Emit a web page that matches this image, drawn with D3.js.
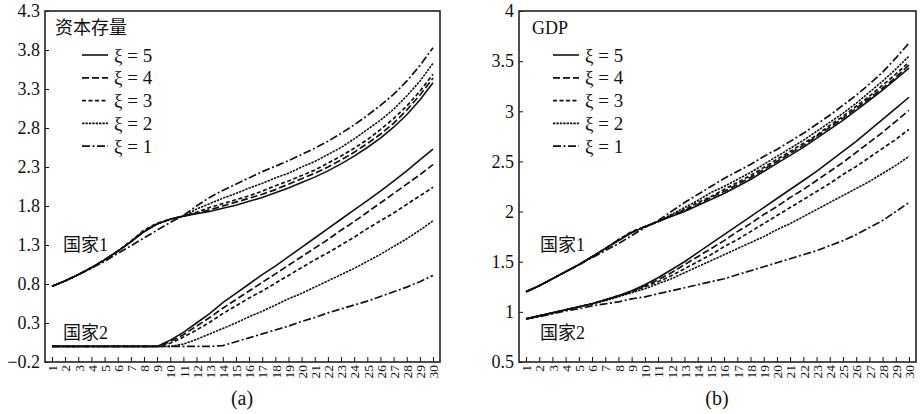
<!DOCTYPE html>
<html>
<head>
<meta charset="utf-8">
<script src="https://cdn.jsdelivr.net/npm/d3@7"></script>
<style>
  body { margin: 0; background: #fff; }
  svg { display: block; }
  text { fill: #111; }
</style>
</head>
<body>
<script>
// periods on the x axis
const years = [1,2,3,4,5,6,7,8,9,10,11,12,13,14,15,16,17,18,19,20,21,22,23,24,25,26,27,28,29,30];
const xiLevels = [5, 4, 3, 2, 1];

// (a) 资本存量, 国家1
const capC1Xi5 = [0.77,0.84,0.92,1.01,1.11,1.22,1.34,1.47,1.57,1.63,1.67,1.70,1.73,1.77,1.81,1.86,1.91,1.97,2.03,2.10,2.17,2.25,2.34,2.44,2.55,2.67,2.81,2.97,3.16,3.38];
const capC1Xi4 = [0.77,0.84,0.92,1.01,1.11,1.22,1.34,1.48,1.57,1.63,1.67,1.71,1.75,1.80,1.85,1.90,1.95,2.01,2.08,2.15,2.22,2.30,2.39,2.49,2.60,2.72,2.86,3.03,3.22,3.44];
const capC1Xi3 = [0.77,0.84,0.92,1.01,1.11,1.22,1.35,1.49,1.58,1.63,1.67,1.72,1.78,1.83,1.88,1.93,1.99,2.06,2.12,2.19,2.26,2.35,2.44,2.54,2.65,2.78,2.92,3.08,3.27,3.49];
const capC1Xi2 = [0.77,0.84,0.92,1.01,1.11,1.22,1.34,1.47,1.57,1.63,1.67,1.76,1.83,1.90,1.96,2.03,2.09,2.16,2.22,2.30,2.37,2.46,2.55,2.66,2.78,2.90,3.04,3.21,3.40,3.63];
const capC1Xi1 = [0.77,0.84,0.92,1.00,1.09,1.19,1.29,1.39,1.49,1.59,1.68,1.80,1.91,2.00,2.08,2.16,2.24,2.31,2.38,2.46,2.54,2.63,2.73,2.84,2.96,3.09,3.23,3.40,3.60,3.83];
// (a) 资本存量, 国家2
const capC2Xi5 = [0,0,0,0,0,0,0,0,0,0.08,0.18,0.30,0.42,0.56,0.68,0.80,0.92,1.03,1.15,1.27,1.39,1.51,1.63,1.75,1.87,1.99,2.12,2.25,2.39,2.53];
const capC2Xi4 = [0,0,0,0,0,0,0,0,0,0.06,0.15,0.26,0.37,0.49,0.60,0.71,0.82,0.93,1.04,1.15,1.26,1.37,1.49,1.60,1.72,1.84,1.96,2.08,2.20,2.33];
const capC2Xi3 = [0,0,0,0,0,0,0,0,0,0.04,0.12,0.21,0.31,0.42,0.52,0.62,0.71,0.81,0.91,1.01,1.11,1.20,1.30,1.40,1.51,1.61,1.71,1.82,1.93,2.04];
const capC2Xi2 = [0,0,0,0,0,0,0,0,0,0,0.03,0.09,0.16,0.23,0.30,0.38,0.45,0.53,0.61,0.68,0.76,0.84,0.92,1.00,1.09,1.18,1.28,1.38,1.49,1.61];
const capC2Xi1 = [0,0,0,0,0,0,0,0,0,0,0,0,0,0.01,0.06,0.11,0.16,0.21,0.26,0.32,0.37,0.43,0.48,0.53,0.58,0.64,0.70,0.76,0.83,0.91];

// (b) GDP, 国家1
const gdpC1Xi5 = [1.20,1.26,1.33,1.40,1.47,1.55,1.63,1.71,1.79,1.85,1.90,1.95,2.00,2.06,2.12,2.18,2.25,2.32,2.40,2.48,2.56,2.64,2.73,2.82,2.91,3.01,3.11,3.21,3.32,3.43];
const gdpC1Xi4 = [1.20,1.26,1.33,1.40,1.47,1.55,1.63,1.72,1.79,1.85,1.90,1.96,2.01,2.07,2.14,2.20,2.27,2.34,2.42,2.50,2.58,2.66,2.75,2.84,2.93,3.03,3.13,3.23,3.34,3.46];
const gdpC1Xi3 = [1.20,1.26,1.33,1.40,1.47,1.55,1.63,1.72,1.80,1.85,1.90,1.96,2.02,2.09,2.15,2.22,2.29,2.36,2.44,2.52,2.60,2.68,2.76,2.86,2.95,3.05,3.15,3.26,3.37,3.49];
const gdpC1Xi2 = [1.20,1.26,1.33,1.40,1.47,1.55,1.63,1.71,1.79,1.85,1.90,1.97,2.04,2.11,2.19,2.25,2.32,2.39,2.47,2.55,2.63,2.71,2.80,2.89,2.98,3.08,3.19,3.30,3.42,3.55];
const gdpC1Xi1 = [1.20,1.26,1.33,1.40,1.47,1.54,1.61,1.68,1.76,1.84,1.91,2.00,2.09,2.17,2.25,2.33,2.40,2.47,2.55,2.62,2.70,2.78,2.87,2.96,3.06,3.16,3.27,3.39,3.53,3.68];
// (b) GDP, 国家2
const gdpC2Xi5 = [0.93,0.96,0.99,1.02,1.05,1.08,1.12,1.16,1.21,1.27,1.34,1.42,1.50,1.59,1.68,1.77,1.86,1.95,2.04,2.13,2.22,2.31,2.40,2.50,2.60,2.70,2.81,2.92,3.03,3.14];
const gdpC2Xi4 = [0.93,0.96,0.99,1.02,1.05,1.08,1.12,1.16,1.20,1.26,1.32,1.39,1.47,1.55,1.63,1.71,1.80,1.88,1.97,2.05,2.14,2.22,2.31,2.40,2.49,2.59,2.69,2.79,2.90,3.01];
const gdpC2Xi3 = [0.93,0.96,0.99,1.02,1.05,1.08,1.12,1.16,1.20,1.25,1.30,1.36,1.43,1.50,1.57,1.65,1.72,1.80,1.88,1.96,2.04,2.12,2.20,2.28,2.37,2.45,2.54,2.63,2.72,2.82];
const gdpC2Xi2 = [0.93,0.96,0.99,1.02,1.05,1.08,1.11,1.15,1.19,1.23,1.28,1.33,1.39,1.45,1.51,1.57,1.63,1.69,1.75,1.82,1.88,1.95,2.02,2.09,2.16,2.23,2.30,2.38,2.46,2.55];
const gdpC2Xi1 = [0.93,0.95,0.98,1.01,1.03,1.06,1.08,1.10,1.13,1.15,1.18,1.21,1.24,1.27,1.30,1.33,1.37,1.41,1.45,1.49,1.53,1.57,1.61,1.66,1.71,1.77,1.84,1.91,2.00,2.09];

// tick labels
const capTicks = [-0.2, 0.3, 0.8, 1.3, 1.8, 2.3, 2.8, 3.3, 3.8, 4.3];
const gdpTicks = [0.5, 1, 1.5, 2, 2.5, 3, 3.5, 4];

const serif = "'Liberation Serif', 'Times New Roman', serif";
const cjk = "'Liberation Serif', 'Noto Sans CJK SC', serif";

// line styles per ξ
const dashes = { 5: null, 4: "7,3", 3: "4,2.5", 2: "2.4,1", 1: "8,2.5,2,2.5" };
const widths = { 5: 1.6, 4: 1.7, 3: 1.7, 2: 1.6, 1: 1.7 };

const svg = d3.select("body").append("svg")
  .attr("width", 921)
  .attr("height", 414);

function drawPanel(p) {
  const top = 11, bottom = 362;
  const x = d3.scaleLinear().domain([1, 30]).range([p.left + 7, p.right - 7]);
  const y = d3.scaleLinear().domain(p.domain).range([bottom, top]);
  const g = svg.append("g");

  // x axis with inward ticks and rotated labels
  const xa = g.append("g")
    .attr("transform", "translate(0," + bottom + ")")
    .call(d3.axisBottom(x).tickValues(years).tickSizeInner(-5).tickSizeOuter(0));
  xa.select(".domain").remove();
  xa.selectAll("line").attr("stroke", "#111");
  xa.selectAll("text")
    .attr("transform", "rotate(-90)")
    .attr("text-anchor", "end")
    .attr("x", -3)
    .attr("y", 0)
    .attr("dy", "0.35em")
    .style("font-family", serif)
    .style("font-size", "13.5px")
    .attr("fill", "#111");

  // y axis
  const ya = g.append("g")
    .attr("transform", "translate(" + p.left + ",0)")
    .call(d3.axisLeft(y).tickValues(p.ticks).tickSizeInner(-4).tickSizeOuter(0).tickPadding(5)
      .tickFormat(d => (d < 0 ? "\u2212" : "") + Math.abs(d)));
  ya.select(".domain").remove();
  ya.selectAll("line").attr("stroke", "#111");
  ya.selectAll("text")
    .style("font-family", serif)
    .style("font-size", "18px")
    .attr("fill", "#111");

  // frame
  g.append("rect")
    .attr("x", p.left).attr("y", top)
    .attr("width", p.right - p.left).attr("height", bottom - top)
    .attr("fill", "none").attr("stroke", "#222").attr("stroke-width", 1.6);

  const line = d3.line()
    .x((d, i) => x(years[i]))
    .y(d => y(d));

  p.series.forEach(s => {
    g.append("path")
      .datum(s.values)
      .attr("d", line)
      .attr("fill", "none")
      .attr("stroke", "#111")
      .attr("stroke-width", widths[s.xi])
      .attr("stroke-dasharray", dashes[s.xi]);
  });

  // title in the box
  g.append("text")
    .attr("x", p.titleX).attr("y", 34)
    .style("font-family", cjk).style("font-size", "18px")
    .text(p.title);

  // legend
  xiLevels.forEach((xi, i) => {
    const ly = 55 + i * 22.8;
    g.append("line")
      .attr("x1", p.legendX).attr("x2", p.legendX + 26)
      .attr("y1", ly).attr("y2", ly)
      .attr("stroke", "#111")
      .attr("stroke-width", widths[xi])
      .attr("stroke-dasharray", dashes[xi]);
    g.append("text")
      .attr("x", p.legendX + 32).attr("y", ly)
      .attr("dy", "0.35em")
      .style("font-family", serif).style("font-size", "19px")
      .text("\u03be = " + xi);
  });

  // country labels
  g.append("text")
    .attr("x", p.countryX).attr("y", 251)
    .style("font-family", cjk).style("font-size", "18px")
    .text("国家1");
  g.append("text")
    .attr("x", p.countryX).attr("y", 339)
    .style("font-family", cjk).style("font-size", "18px")
    .text("国家2");

  // sub caption
  g.append("text")
    .attr("x", p.captionX).attr("y", 405)
    .attr("text-anchor", "middle")
    .style("font-family", serif).style("font-size", "20px")
    .text(p.caption);
}

drawPanel({
  left: 45, right: 440,
  domain: [-0.2, 4.3],
  ticks: capTicks,
  title: "资本存量", titleX: 55,
  legendX: 82,
  countryX: 63,
  caption: "(a)", captionX: 242,
  series: [
    { xi: 5, values: capC1Xi5 }, { xi: 4, values: capC1Xi4 }, { xi: 3, values: capC1Xi3 },
    { xi: 2, values: capC1Xi2 }, { xi: 1, values: capC1Xi1 },
    { xi: 5, values: capC2Xi5 }, { xi: 4, values: capC2Xi4 }, { xi: 3, values: capC2Xi3 },
    { xi: 2, values: capC2Xi2 }, { xi: 1, values: capC2Xi1 }
  ]
});

drawPanel({
  left: 519, right: 916,
  domain: [0.5, 4],
  ticks: gdpTicks,
  title: "GDP", titleX: 532,
  legendX: 553,
  countryX: 540,
  caption: "(b)", captionX: 717,
  series: [
    { xi: 5, values: gdpC1Xi5 }, { xi: 4, values: gdpC1Xi4 }, { xi: 3, values: gdpC1Xi3 },
    { xi: 2, values: gdpC1Xi2 }, { xi: 1, values: gdpC1Xi1 },
    { xi: 5, values: gdpC2Xi5 }, { xi: 4, values: gdpC2Xi4 }, { xi: 3, values: gdpC2Xi3 },
    { xi: 2, values: gdpC2Xi2 }, { xi: 1, values: gdpC2Xi1 }
  ]
});
</script>
</body>
</html>
